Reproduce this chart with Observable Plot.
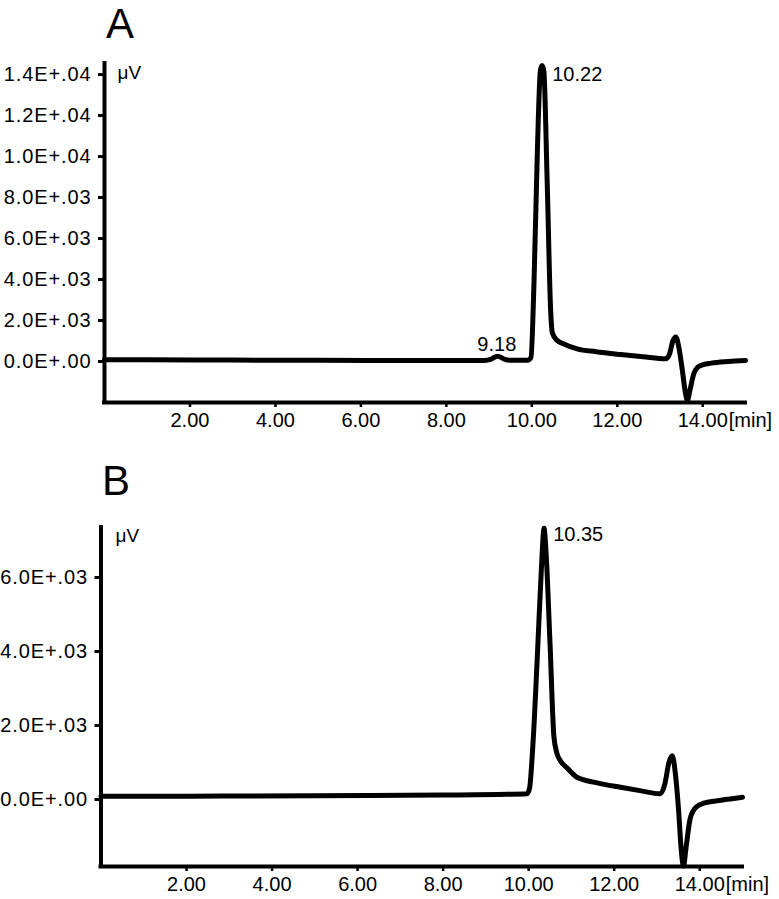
<!DOCTYPE html>
<html>
<head>
<meta charset="utf-8">
<script src="https://cdn.jsdelivr.net/npm/d3@7"></script>
<script src="https://cdn.jsdelivr.net/npm/@observablehq/plot@0.6"></script>
<style>
  html, body { margin: 0; padding: 0; background: #fff; }
  #wrap { position: relative; width: 779px; height: 899px; font-family: "Liberation Sans", Arial, sans-serif; }
  .panel { position: absolute; left: 0; z-index: 1; }
  .letter { position: absolute; z-index: 5; font-size: 42px; line-height: 47px; height: 47px; color: #000; }
  g[aria-label="y-axis tick label"] text { letter-spacing: 0.9px; }
</style>
</head>
<body>
<div id="wrap">
  <div id="pa" class="panel" style="top:0px;"></div>
  <div id="pb" class="panel" style="top:450px;"></div>
  <div class="letter" style="left:106px; top:0px;">A</div>
  <div class="letter" style="left:102px; top:457px;">B</div>
</div>
<script>
// ---- Data (time in min, signal in µV) ----
const aTime = [0.00, 1.0, 3.0, 5.0, 7.0, 8.5, 8.9, 9.05, 9.2, 9.35, 9.5, 9.9, 9.98, 10.05, 10.13, 10.20, 10.24, 10.28, 10.36, 10.44, 10.48, 10.58, 10.75, 11.06, 11.5, 12.08, 12.6, 13.13, 13.22, 13.30, 13.37, 13.44, 13.52, 13.60, 13.64, 13.70, 13.79, 13.88, 13.97, 14.2, 14.6, 15.0];
const aSignal = [90, 85, 70, 60, 50, 50, 55, 120, 260, 120, 60, 60, 200, 3800, 10300, 14200, 14440, 14200, 8700, 2500, 1400, 1050, 860, 620, 480, 340, 230, 130, 350, 1000, 1200, 700, -400, -1600, -1900, -1400, -600, -280, -180, -80, 0, 50];

const bTime = [0, 2, 5, 8, 9.5, 9.96, 10.02, 10.10, 10.20, 10.30, 10.36, 10.40, 10.50, 10.59, 10.66, 10.74, 10.90, 11.13, 11.6, 12.15, 12.6, 13.08, 13.18, 13.28, 13.36, 13.43, 13.50, 13.57, 13.62, 13.68, 13.78, 13.92, 14.09, 14.5, 15.0];
const bSignal = [90, 90, 100, 120, 140, 155, 300, 1500, 3800, 6300, 7330, 6800, 4200, 1700, 1250, 1050, 850, 600, 450, 330, 240, 155, 400, 1000, 1180, 700, -200, -1400, -1800, -1300, -500, -200, -100, -20, 60];

const xTicks = [2, 4, 6, 8, 10, 12, 14];
const xTickLabels = ["2.00", "4.00", "6.00", "8.00", "10.00", "12.00", "14.00"];
const xUnit = "[min]";
const yUnit = "\u03bcV";

const aYTicks = [0, 2000, 4000, 6000, 8000, 10000, 12000, 14000];
const aYTickLabels = ["0.0E+.00", "2.0E+.03", "4.0E+.03", "6.0E+.03", "8.0E+.03", "1.0E+.04", "1.2E+.04", "1.4E+.04"];
const bYTicks = [0, 2000, 4000, 6000];
const bYTickLabels = ["0.0E+.00", "2.0E+.03", "4.0E+.03", "6.0E+.03"];

const aPeakMain = [{t: 10.22, v: 14440, label: "10.22"}];
const aPeakMinor = [{t: 9.18, v: 260, label: "9.18"}];
const bPeakMain = [{t: 10.35, v: 7330, label: "10.35"}];

const aYDomain = [-2000, 14540];
const bYDomain = [-1811, 7351];

function panel(o) {
  const rows = o.time.map((t, i) => ({t, v: o.signal[i]}));
  return Plot.plot({
    width: 779,
    height: o.height,
    marginTop: o.marginTop,
    marginLeft: o.marginLeft,
    marginRight: o.marginRight,
    marginBottom: o.marginBottom,
    x: {domain: [0, 15]},
    y: {domain: o.yDomain},
    style: {fontFamily: "'Liberation Sans', Arial, sans-serif", fontSize: "20px", color: "#000", background: "transparent", overflow: "visible"},
    marks: [
      Plot.axisY({ticks: o.yTicks, tickFormat: d => o.yLabels[o.yTicks.indexOf(d)], tickSize: 6, tickPadding: 7, strokeWidth: 3, fontSize: 20, label: null}),
      Plot.axisX({ticks: xTicks, tickFormat: d => xTickLabels[xTicks.indexOf(d)], tickSize: 5, tickPadding: 5, strokeWidth: 2.5, fontSize: 20, label: null}),
      Plot.text([xUnit], {x: () => 14, frameAnchor: "bottom", text: d => d, textAnchor: "start", lineAnchor: "top", dx: 26, dy: 10, fontSize: 20}),
      Plot.text([yUnit], {frameAnchor: "top-left", text: d => d, textAnchor: "start", lineAnchor: "top", dx: o.unitDx, dy: o.unitDy, fontSize: 19}),
      Plot.ruleX([0], {strokeWidth: 4, strokeLinecap: "square"}),
      Plot.ruleY([o.yDomain[0]], {strokeWidth: 4, strokeLinecap: "square"}),
      Plot.line(rows, {x: "t", y: "v", stroke: "#000", strokeWidth: 5, curve: "monotone-x", strokeLinejoin: "round", strokeLinecap: "round"}),
      Plot.text(o.peakMain, {x: "t", y: "v", text: "label", textAnchor: "start", lineAnchor: "top", dx: o.peakDx, dy: o.peakDy, fontSize: 20}),
      ...(o.peakMinor ? [Plot.text(o.peakMinor, {x: "t", y: "v", text: "label", textAnchor: "middle", lineAnchor: "bottom", dy: -5, fontSize: 20})] : [])
    ]
  });
}

document.getElementById("pa").appendChild(panel({
  time: aTime, signal: aSignal, yDomain: aYDomain, yTicks: aYTicks, yLabels: aYTickLabels,
  height: 450, marginTop: 63, marginLeft: 104, marginRight: 34, marginBottom: 48,
  unitDx: 13, unitDy: 2, peakMain: aPeakMain, peakMinor: aPeakMinor, peakDx: 11, peakDy: 1
}));

document.getElementById("pb").appendChild(panel({
  time: bTime, signal: bSignal, yDomain: bYDomain, yTicks: bYTicks, yLabels: bYTickLabels,
  height: 449, marginTop: 77, marginLeft: 100.5, marginRight: 37, marginBottom: 33,
  unitDx: 14.5, unitDy: 1, peakMain: bPeakMain, peakMinor: null, peakDx: 9.5, peakDy: -1
}));
</script>
</body>
</html>
